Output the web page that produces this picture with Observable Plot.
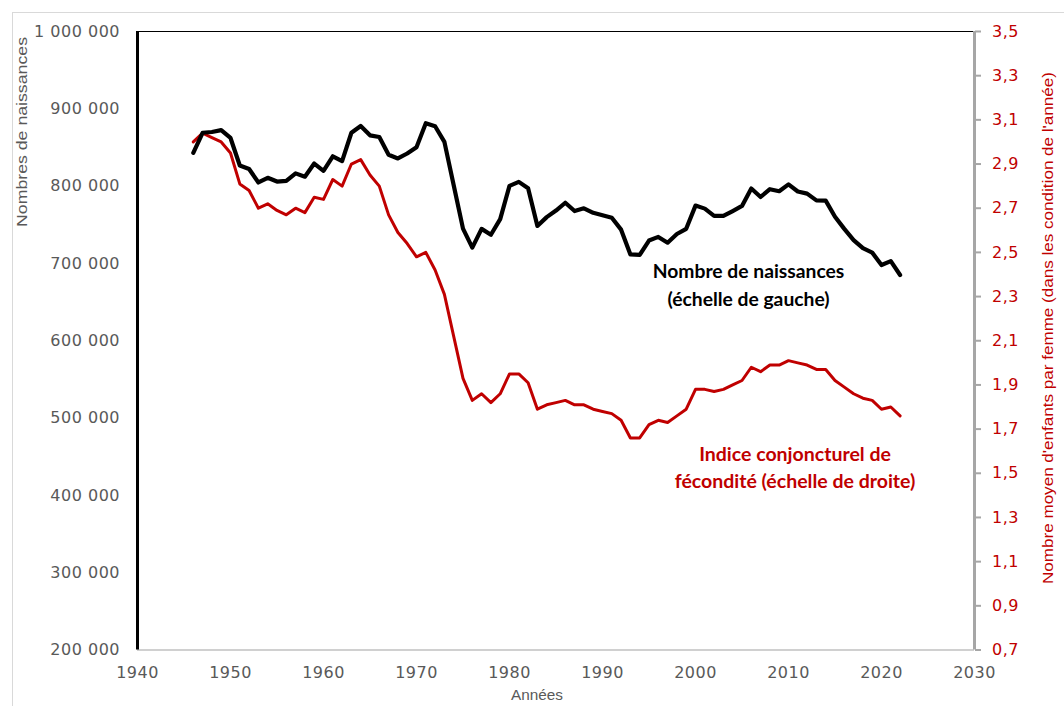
<!DOCTYPE html>
<html>
<head>
<meta charset="utf-8">
<script src="https://cdn.jsdelivr.net/npm/d3@7"></script>
<script src="https://cdn.jsdelivr.net/npm/@observablehq/plot@0.6"></script>
<style>
  body { margin: 0; background: #fff; }
  #wrap { position: relative; width: 1064px; height: 706px; overflow: hidden; background: #fff; }
  #border { position: absolute; left: 12px; top: 12px; width: 1080px; height: 720px; border: 1px solid #d9d9d9; box-sizing: border-box; pointer-events: none; }
  #wrap svg g[aria-label^="y-axis"] text, #wrap svg g[aria-label^="x-axis"] text { letter-spacing: 0.5px; }
</style>
</head>
<body>
<div id="wrap"></div>
<script>
// ---- Data ----
const years = [1946,1947,1948,1949,1950,1951,1952,1953,1954,1955,1956,1957,1958,1959,
  1960,1961,1962,1963,1964,1965,1966,1967,1968,1969,1970,1971,1972,1973,1974,1975,1976,1977,1978,1979,
  1980,1981,1982,1983,1984,1985,1986,1987,1988,1989,1990,1991,1992,1993,1994,1995,1996,1997,1998,1999,
  2000,2001,2002,2003,2004,2005,2006,2007,2008,2009,2010,2011,2012,2013,2014,2015,2016,2017,2018,2019,
  2020,2021,2022];

// Nombre de naissances (échelle de gauche)
const births = [843000,869000,870000,872500,862300,826700,822200,804700,810800,805900,806900,816500,812200,829200,
  819800,838600,832400,869000,877800,865700,863500,840600,835800,842200,850400,881300,877500,857200,801200,745100,720400,744700,737100,757400,
  800400,805500,797200,748500,759900,768400,778500,767800,771300,765500,762400,759100,743700,711600,711000,729600,734300,726800,738100,744800,
  774800,770900,761600,761500,767800,774400,796900,786000,796000,793400,802200,793000,790300,781600,781200,760400,744700,730200,719700,714000,
  698000,703000,685000];

// Indice conjoncturel de fécondité (échelle de droite)
const icf = [3.00,3.04,3.02,3.00,2.95,2.81,2.78,2.70,2.72,2.69,2.67,2.70,2.68,2.75,
  2.74,2.83,2.80,2.90,2.92,2.85,2.80,2.67,2.59,2.54,2.48,2.50,2.42,2.31,2.12,1.93,1.83,1.86,1.82,1.86,
  1.95,1.95,1.91,1.79,1.81,1.82,1.83,1.81,1.81,1.79,1.78,1.77,1.74,1.66,1.66,1.72,1.74,1.73,1.76,1.79,
  1.88,1.88,1.87,1.88,1.90,1.92,1.98,1.96,1.99,1.99,2.01,2.00,1.99,1.97,1.97,1.92,1.89,1.86,1.84,1.83,
  1.79,1.80,1.76];

const xTicks = [1940,1950,1960,1970,1980,1990,2000,2010,2020,2030];
const leftTicks = [200000,300000,400000,500000,600000,700000,800000,900000,1000000];
const rightTicks = [0.7,0.9,1.1,1.3,1.5,1.7,1.9,2.1,2.3,2.5,2.7,2.9,3.1,3.3,3.5];

const leftTitle = "Nombres de naissances";
const rightTitle = "Nombre moyen d'enfants par femme (dans les condition de l'année)";
const xTitle = "Années";

const noteBirths = { year: 2005.7, value: 675000, text: "Nombre de naissances\n(échelle de gauche)" };
const noteIcf = { year: 2010.7, value: 1.533, text: "Indice conjoncturel de\nfécondité (échelle de droite)" };

// ---- Scales mapping (right axis mapped onto left domain) ----
const L0 = 200000, L1 = 1000000, R0 = 0.7, R1 = 3.5;
const toLeft = v => L0 + (v - R0) / (R1 - R0) * (L1 - L0);
const toRight = v => R0 + (v - L0) / (L1 - L0) * (R1 - R0);

const data = years.map((y, i) => ({ year: y, births: births[i], icf: icf[i] }));
const RED = "#C00000";
const GRAY = "#595959";

const fmtLeft = d => d3.format(",")(d).replace(/,/g, "\u00a0");
const fmtRight = d => (Math.round(toRight(d) * 10) / 10).toFixed(1).replace(".", ",");

const chart = Plot.plot({
  width: 1064,
  height: 706,
  marginLeft: 137,
  marginRight: 90,
  marginTop: 31,
  marginBottom: 56.5,
  x: { domain: [1940, 2030] },
  y: { domain: [L0, L1] },
  style: { fontFamily: "'DejaVu Sans', Verdana, sans-serif", fontSize: "16px", color: GRAY, background: "transparent", overflow: "visible" },
  marks: [
    Plot.ruleY([L0], { stroke: "#d0d0d0", strokeWidth: 2 }),
    Plot.ruleY([L1], { stroke: "#000", strokeWidth: 1 }),
    Plot.axisX({ ticks: xTicks, tickSize: 0, tickPadding: 17, tickFormat: d => String(d), label: null, fill: GRAY, fontSize: 16 }),
    Plot.axisY({ ticks: leftTicks, tickSize: 0, tickPadding: 17.5, tickFormat: fmtLeft, label: null, fill: GRAY, fontSize: 16 }),
    Plot.axisY(rightTicks.map(toLeft), { anchor: "right", tickSize: 6, tickPadding: 11.5, stroke: "#a6a6a6", strokeWidth: 2, strokeOpacity: 1, tickFormat: fmtRight, label: null, fill: RED, fontSize: 16 }),
    Plot.ruleX([2030], { stroke: "#a6a6a6", strokeWidth: 3 }),
    Plot.ruleX([1940], { stroke: "#000", strokeWidth: 3 }),
    Plot.line(data, { x: "year", y: d => toLeft(d.icf), stroke: RED, strokeWidth: 3, strokeLinejoin: "round" }),
    Plot.line(data, { x: "year", y: "births", stroke: "#000", strokeWidth: 4.2, strokeLinejoin: "round" }),
    Plot.text([noteBirths], { x: "year", y: "value", text: "text", fill: "#000", fontWeight: "bold", fontSize: 19.3, lineHeight: 1.45, fontFamily: "Lato, 'Open Sans', sans-serif" }),
    Plot.text([noteIcf], { x: "year", y: d => toLeft(d.value), text: "text", fill: RED, fontWeight: "bold", fontSize: 19.5, lineHeight: 1.4, fontFamily: "Lato, 'Open Sans', sans-serif" })
  ]
});

const wrap = document.getElementById("wrap");
wrap.appendChild(chart);
const border = document.createElement("div");
border.id = "border";
wrap.appendChild(border);

// Axis titles
const svg = d3.select(chart);
const titleFont = "'Liberation Sans Narrow', 'Liberation Sans', Arial, sans-serif";
svg.append("text")
  .attr("transform", "translate(27,132) rotate(-90)")
  .attr("text-anchor", "middle")
  .attr("font-family", titleFont)
  .attr("font-size", 15)
  .attr("fill", GRAY)
  .attr("textLength", 190)
  .attr("lengthAdjust", "spacingAndGlyphs")
  .text(leftTitle);
svg.append("text")
  .attr("transform", "translate(1053,328) rotate(-90)")
  .attr("text-anchor", "middle")
  .attr("font-family", titleFont)
  .attr("font-size", 15)
  .attr("fill", RED)
  .attr("textLength", 512)
  .attr("lengthAdjust", "spacingAndGlyphs")
  .text(rightTitle);
svg.append("text")
  .attr("x", 537)
  .attr("y", 700)
  .attr("text-anchor", "middle")
  .attr("font-family", titleFont)
  .attr("font-size", 15)
  .attr("fill", GRAY)
  .attr("textLength", 52)
  .attr("lengthAdjust", "spacingAndGlyphs")
  .text(xTitle);
</script>
</body>
</html>
